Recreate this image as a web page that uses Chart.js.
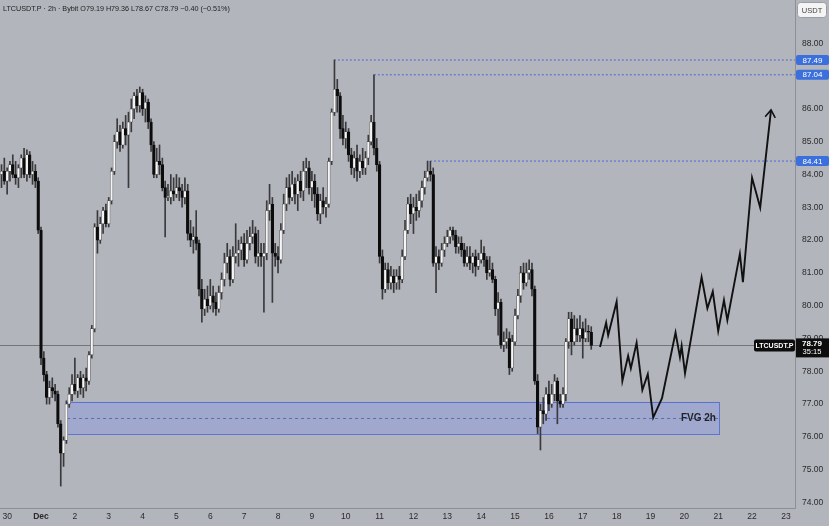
<!DOCTYPE html>
<html>
<head>
<meta charset="utf-8">
<title>LTCUSDT.P 2h</title>
<script src="https://cdn.jsdelivr.net/npm/chart.js@4.4.1/dist/chart.umd.min.js"></script>
<style>
  html, body { margin: 0; padding: 0; background: #b2b5bc; }
</style>
</head>
<body>
<canvas id="myChart" width="829" height="526"></canvas>
<script>
//2h candles, index 14 is Dec 1 00:00
const opens = [
  84.0, 84.1, 83.8, 84.1, 84.3, 84.0, 83.9, 84.2, 84.5, 84.0, 84.6, 84.0,
  84.1, 83.8, 82.3, 78.4, 77.9, 77.2, 77.5, 77.4, 77.3, 76.4, 75.5, 75.9,
  77.0, 77.3, 77.6, 77.4, 77.8, 77.5, 77.8, 77.7, 78.5, 79.3, 82.4, 82.0,
  82.5, 82.9, 82.5, 83.2, 84.1, 85.0, 85.3, 84.9, 85.4, 85.2, 85.6, 86.0,
  86.4, 86.1, 86.5, 86.0, 86.2, 85.6, 84.9, 84.0, 84.4, 84.3, 83.6, 83.3,
  83.3, 83.5, 83.4, 83.6, 83.5, 83.3, 83.5, 82.2, 82.0, 82.1, 81.9, 80.5,
  79.9, 80.2, 80.0, 80.3, 80.1, 79.9, 80.4, 80.8, 81.3, 81.5, 80.8, 81.5,
  81.6, 81.7, 81.9, 81.4, 81.9, 82.1, 82.2, 81.5, 81.6, 81.5, 81.6, 82.9,
  83.1, 81.6, 81.5, 81.4, 82.3, 83.1, 83.6, 83.3, 83.7, 83.4, 83.8, 83.5,
  84.1, 84.2, 83.6, 83.8, 83.4, 82.8, 83.2, 83.0, 83.1, 84.4, 85.9, 86.6,
  86.4, 85.4, 85.1, 85.3, 84.6, 84.2, 84.5, 84.1, 84.4, 84.2, 84.5, 85.0,
  85.6, 84.8, 84.3, 81.5, 80.5, 81.1, 80.7, 80.9, 80.7, 80.9, 80.8, 81.5,
  82.3, 83.1, 82.8, 83.0, 82.9, 83.2, 83.6, 83.9, 84.1, 84.0, 81.3, 81.5,
  81.3, 81.7, 81.9, 82.1, 82.3, 82.15, 81.8, 81.9, 81.7, 81.3, 81.5, 81.3,
  81.5, 81.2, 81.4, 81.6, 81.4, 81.0, 81.1, 80.8, 79.9, 80.1, 78.8, 78.9,
  79.0, 78.1, 78.9, 79.7, 80.3, 81.0, 80.7, 81.0, 81.1, 80.5, 77.7, 76.3,
  76.8, 76.7, 77.3, 77.0, 77.3, 77.7, 77.1, 77.0, 77.3, 78.9, 79.6, 78.9,
  79.3, 79.1, 79.3, 79.0, 79.2, 79.19
];
const highs = [
  84.3, 84.5, 84.2, 84.4, 84.6, 84.4, 84.3, 84.6, 84.8, 84.75, 84.7, 84.4,
  84.3, 83.9, 82.4, 78.6, 78.0, 77.7, 77.8, 77.6, 77.4, 76.5, 76.0, 77.1,
  77.5, 77.9, 78.4, 77.9, 78.0, 77.9, 78.1, 78.6, 79.4, 82.5, 82.9, 82.7,
  83.0, 83.1, 83.3, 84.2, 85.2, 85.7, 85.5, 85.6, 85.8, 85.9, 86.3, 86.5,
  86.6, 86.67, 86.6, 86.4, 86.3, 85.7, 85.0, 84.8, 84.9, 84.5, 83.8, 83.7,
  84.0, 83.9, 84.0, 83.9, 83.7, 83.9, 83.7, 82.6, 82.4, 82.9, 82.0, 80.8,
  80.5, 80.6, 80.8, 80.6, 80.4, 80.6, 81.0, 81.6, 81.9, 81.7, 81.8, 82.5,
  82.0, 82.1, 82.2, 82.3, 82.4, 82.6, 82.4, 82.3, 81.9, 81.9, 83.2, 83.7,
  83.3, 81.9, 81.8, 82.5, 83.4, 83.9, 84.0, 84.1, 83.9, 84.0, 84.1, 84.4,
  84.5, 84.4, 84.1, 84.0, 83.6, 83.4, 83.6, 83.3, 84.5, 86.0, 87.49, 86.9,
  86.5, 85.8, 85.6, 85.4, 84.8, 84.7, 84.9, 84.6, 84.8, 84.7, 85.2, 85.8,
  87.04, 85.1, 84.4, 81.7, 81.3, 81.3, 81.2, 81.1, 81.1, 81.2, 81.7, 82.6,
  83.3, 83.4, 83.3, 83.4, 83.5, 83.8, 84.1, 84.41, 84.4, 84.2, 81.8, 81.7,
  81.9, 82.1, 82.3, 82.4, 82.4, 82.3, 82.1, 82.1, 81.9, 81.8, 81.8, 81.6,
  81.7, 81.6, 82.0, 81.8, 81.5, 81.5, 81.3, 80.9, 80.4, 80.2, 79.2, 79.3,
  79.2, 79.1, 79.9, 80.5, 81.2, 81.3, 81.3, 81.4, 81.3, 80.6, 77.9, 77.0,
  77.2, 77.5, 77.7, 77.6, 77.9, 77.8, 77.3, 77.5, 79.0, 79.8, 79.8, 79.7,
  79.6, 79.7, 79.5, 79.6, 79.4, 79.36
];
const lows = [
  83.6, 83.7, 83.4, 83.8, 83.9, 83.7, 83.6, 83.9, 83.9, 83.8, 83.9, 83.7,
  83.6, 82.2, 78.2, 77.7, 77.0, 77.0, 77.2, 77.1, 76.3, 74.5, 75.1, 75.8,
  76.9, 77.1, 77.3, 77.2, 77.3, 77.2, 77.4, 77.6, 78.4, 79.2, 81.6, 81.9,
  82.2, 82.4, 82.4, 83.1, 84.0, 84.8, 84.7, 84.8, 84.9, 83.6, 85.3, 85.7,
  85.9, 85.9, 85.8, 85.6, 85.4, 84.7, 83.9, 83.9, 84.0, 83.5, 82.1, 83.2,
  83.1, 83.2, 83.3, 83.2, 83.0, 83.1, 82.0, 81.8, 81.6, 81.7, 80.3, 79.5,
  79.7, 79.8, 79.9, 79.8, 79.7, 79.8, 80.2, 80.6, 81.0, 80.6, 80.7, 81.3,
  81.2, 81.4, 81.2, 81.3, 81.7, 81.9, 81.3, 81.2, 81.2, 79.8, 81.4, 82.6,
  80.1, 81.2, 81.0, 81.3, 82.2, 82.9, 83.1, 83.2, 83.1, 82.9, 83.3, 83.2,
  83.6, 83.4, 83.2, 83.0, 82.6, 82.5, 82.8, 82.7, 83.0, 84.3, 85.8, 85.9,
  85.1, 84.9, 84.8, 84.4, 84.0, 83.9, 83.8, 83.9, 84.0, 84.0, 84.3, 84.9,
  84.6, 84.1, 81.3, 80.2, 80.4, 80.5, 80.5, 80.4, 80.5, 80.5, 80.7, 81.4,
  82.2, 82.5, 82.2, 82.6, 82.7, 83.0, 83.4, 83.8, 83.8, 81.2, 80.4, 81.1,
  81.2, 81.5, 81.8, 81.9, 82.0, 81.6, 81.6, 81.5, 81.2, 81.2, 81.1, 81.0,
  80.9, 81.1, 81.3, 81.2, 80.8, 80.9, 80.7, 79.7, 79.1, 78.7, 78.6, 78.7,
  77.9, 78.0, 78.8, 79.6, 80.1, 80.5, 80.6, 80.8, 80.3, 77.6, 76.1, 75.6,
  76.4, 76.5, 76.8, 76.9, 77.1, 76.4, 76.9, 76.9, 77.1, 78.7, 78.5, 78.8,
  78.9, 78.9, 78.4, 78.9, 78.9, 78.67
];
const closes = [
  84.1, 83.8, 84.1, 84.3, 84.0, 83.9, 84.2, 84.5, 84.0, 84.6, 84.0, 84.1,
  83.8, 82.3, 78.4, 77.9, 77.2, 77.5, 77.4, 77.3, 76.4, 75.5, 75.9, 77.0,
  77.3, 77.6, 77.4, 77.8, 77.5, 77.8, 77.7, 78.5, 79.3, 82.4, 82.0, 82.5,
  82.9, 82.5, 83.2, 84.1, 85.0, 85.3, 84.9, 85.4, 85.2, 85.6, 86.0, 86.4,
  86.1, 86.5, 86.0, 86.2, 85.6, 84.9, 84.0, 84.4, 84.3, 83.6, 83.3, 83.3,
  83.5, 83.4, 83.6, 83.5, 83.3, 83.5, 82.2, 82.0, 82.1, 81.9, 80.5, 79.9,
  80.2, 80.0, 80.3, 80.1, 79.9, 80.4, 80.8, 81.3, 81.5, 80.8, 81.5, 81.6,
  81.7, 81.9, 81.4, 81.9, 82.1, 82.2, 81.5, 81.6, 81.5, 81.6, 82.9, 83.1,
  81.6, 81.5, 81.4, 82.3, 83.1, 83.6, 83.3, 83.7, 83.4, 83.8, 83.5, 84.1,
  84.2, 83.6, 83.8, 83.4, 82.8, 83.2, 83.0, 83.1, 84.4, 85.9, 86.6, 86.4,
  85.4, 85.1, 85.3, 84.6, 84.2, 84.5, 84.1, 84.4, 84.2, 84.5, 85.0, 85.6,
  84.8, 84.3, 81.5, 80.5, 81.1, 80.7, 80.9, 80.7, 80.9, 80.8, 81.5, 82.3,
  83.1, 82.8, 83.0, 82.9, 83.2, 83.6, 83.9, 84.1, 84.0, 81.3, 81.5, 81.3,
  81.7, 81.9, 82.1, 82.3, 82.15, 81.8, 81.9, 81.7, 81.3, 81.5, 81.3, 81.5,
  81.2, 81.4, 81.6, 81.4, 81.0, 81.1, 80.8, 79.9, 80.1, 78.8, 78.9, 79.0,
  78.1, 78.9, 79.7, 80.3, 81.0, 80.7, 81.0, 81.1, 80.5, 77.7, 76.3, 76.8,
  76.7, 77.3, 77.0, 77.3, 77.7, 77.1, 77.0, 77.3, 78.9, 79.6, 78.9, 79.3,
  79.1, 79.3, 79.0, 79.2, 79.19, 78.79
];

//hand drawn projection after the last candle (day of month, price)
const projDays = [17.51, 17.69, 17.75, 18.00, 18.17, 18.34, 18.42, 18.59, 18.76, 18.92, 19.08, 19.34, 19.74, 19.87,
  19.92, 20.02, 20.51, 20.68, 20.84, 21.00, 21.17, 21.27, 21.64, 21.73, 22.00, 22.24, 22.56];
const projPrices = [78.74, 79.48, 79.10, 80.12, 77.71, 78.47, 78.09, 78.87, 77.43, 77.91, 76.59, 77.18, 79.18, 78.43,
  78.77, 77.94, 80.87, 79.92, 80.43, 79.23, 80.17, 79.56, 81.58, 80.72, 83.90, 82.99, 85.97];

//highs marked with dotted lines
const levelPrices = [87.49, 87.04, 84.41];
const levelStart = [9.65, 10.83, 12.49];

//fair value gap zone
const fvgLow = 76.09;
const fvgHigh = 77.07;
const fvgMid = 76.58;
const fvgFrom = 1.77;
const fvgTo = 21.02;

const priceTicks = [74, 75, 76, 77, 78, 79, 80, 81, 82, 83, 84, 85, 86, 87, 88];
const dayTicks = [0, 1, 2, 3, 4, 5, 6, 7, 8, 9, 10, 11, 12, 13, 14, 15, 16, 17, 18, 19, 20, 21, 22, 23];
const dayLabels = ['30', 'Dec', '2', '3', '4', '5', '6', '7', '8', '9', '10', '11', '12', '13', '14', '15', '16',
  '17', '18', '19', '20', '21', '22', '23'];
const countdown = '35:15';

const FONT = '"Liberation Sans", Arial, sans-serif';
const BG = '#b2b5bc';

//time of each candle in days of December
const candleDays = opens.map((o, i) => 1 + (i - 14) / 12);
const last = closes.length - 1;
const lastPrice = closes[last];

const wicks = candleDays.map((d, i) => ({ x: d, y: [lows[i], highs[i]] }));
const bodies = candleDays.map((d, i) => ({ x: d, y: [opens[i], closes[i]] }));
const projection = projDays.map((d, i) => ({ x: d, y: projPrices[i] }));

function isUp(c) {
    return closes[c.dataIndex] >= opens[c.dataIndex];
}

const levelSets = levelPrices.map((p, i) => ({
    type: 'line',
    data: [{ x: levelStart[i], y: p }, { x: 23.3, y: p }],
    borderColor: '#4a67d6',
    borderWidth: 1,
    borderDash: [2, 2],
    pointRadius: 0,
    order: 3
}));

//no label padding, so the plot fills the canvas up to the axes
function noPadding(s) {
    s.paddingTop = 0;
    s.paddingBottom = 0;
    s.paddingLeft = 0;
    s.paddingRight = 0;
}

function tag(c, text, x, y, w, h, fill, color, font) {
    c.fillStyle = fill;
    c.beginPath();
    if (c.roundRect) c.roundRect(x, y, w, h, 2); else c.rect(x, y, w, h);
    c.fill();
    c.fillStyle = color;
    c.font = font;
    c.textAlign = 'center';
    c.textBaseline = 'middle';
    c.fillText(text, x + w / 2, y + h / 2 + 0.5);
}

const overlays = {
    id: 'overlays',
    beforeDraw(chart) {
        const c = chart.ctx;
        c.save();
        c.fillStyle = BG;
        c.fillRect(0, 0, chart.width, chart.height);
        c.restore();
    },
    beforeDatasetsDraw(chart) {
        const c = chart.ctx, x = chart.scales.x, y = chart.scales.y, area = chart.chartArea;
        const left = x.getPixelForValue(fvgFrom), right = x.getPixelForValue(fvgTo);
        const top = y.getPixelForValue(fvgHigh), bot = y.getPixelForValue(fvgLow);
        c.save();
        //zone
        c.fillStyle = 'rgba(120,140,245,0.30)';
        c.fillRect(left, top, right - left, bot - top);
        c.strokeStyle = 'rgba(78,104,214,0.85)';
        c.lineWidth = 1;
        c.strokeRect(Math.round(left) + 0.5, Math.round(top) + 0.5, Math.round(right - left), Math.round(bot - top));
        c.setLineDash([3, 3]);
        c.strokeStyle = 'rgba(70,88,170,0.75)';
        const mid = Math.round(y.getPixelForValue(fvgMid)) + 0.5;
        c.beginPath(); c.moveTo(left, mid); c.lineTo(right, mid); c.stroke();
        //last price line
        c.setLineDash([]);
        const py = Math.round(y.getPixelForValue(lastPrice)) + 0.5;
        c.strokeStyle = 'rgba(88,90,96,0.7)';
        c.beginPath(); c.moveTo(area.left, py); c.lineTo(area.right, py); c.stroke();
        c.restore();
    },
    afterDraw(chart) {
        const c = chart.ctx, x = chart.scales.x, y = chart.scales.y, area = chart.chartArea;
        c.save();
        //arrow head on the projection
        const n = projDays.length;
        const tx = x.getPixelForValue(projDays[n - 1]), ty = y.getPixelForValue(projPrices[n - 1]);
        const fx = x.getPixelForValue(projDays[n - 2]), fy = y.getPixelForValue(projPrices[n - 2]);
        const ang = Math.atan2(ty - fy, tx - fx);
        c.strokeStyle = '#111';
        c.lineWidth = 1.6;
        c.beginPath();
        c.moveTo(tx + 9 * Math.cos(ang + Math.PI - 0.6), ty + 9 * Math.sin(ang + Math.PI - 0.6));
        c.lineTo(tx, ty);
        c.lineTo(tx + 9 * Math.cos(ang + Math.PI + 0.6), ty + 9 * Math.sin(ang + Math.PI + 0.6));
        c.stroke();

        //FVG label
        c.fillStyle = '#1f2126';
        c.font = 'bold 10px ' + FONT;
        c.textAlign = 'right';
        c.textBaseline = 'middle';
        c.fillText('FVG 2h', x.getPixelForValue(fvgTo) - 3, y.getPixelForValue(fvgMid) + 0.5);

        //price tags on the axis
        levelPrices.forEach(p => {
            const ly = y.getPixelForValue(p);
            tag(c, p.toFixed(2), area.right + 1, ly - 5, 33, 10, '#3b6fdc', '#fff', '8px ' + FONT);
        });
        const py = y.getPixelForValue(lastPrice);
        tag(c, 'LTCUSDT.P', area.right - 41, py - 6, 41, 12, '#0d0d0d', '#fff', 'bold 7px ' + FONT);
        c.fillStyle = '#0d0d0d';
        c.fillRect(area.right + 1, py - 7, 33, 19);
        c.fillStyle = '#fff';
        c.textAlign = 'center';
        c.font = 'bold 8px ' + FONT;
        c.fillText(lastPrice.toFixed(2), area.right + 17, py - 2);
        c.font = '7.5px ' + FONT;
        c.fillText(countdown, area.right + 17, py + 7);

        //currency box
        c.strokeStyle = '#9a9da4';
        c.lineWidth = 1;
        c.fillStyle = '#f4f4f5';
        c.beginPath();
        if (c.roundRect) c.roundRect(797.5, 2.5, 29, 15, 3); else c.rect(797.5, 2.5, 29, 15);
        c.fill(); c.stroke();
        c.fillStyle = '#444';
        c.font = '7.5px ' + FONT;
        c.fillText('USDT', 812, 10.5);

        //header
        const chg = closes[last] - closes[last - 1];
        const pct = chg / closes[last - 1] * 100;
        const sign = v => (v < 0 ? '\u2212' : '+') + Math.abs(v).toFixed(2);
        c.fillStyle = '#222';
        c.textAlign = 'left';
        c.font = '7.2px ' + FONT;
        c.fillText('LTCUSDT.P \u00b7 2h \u00b7 Bybit O' + opens[last].toFixed(2) + ' H' + highs[last].toFixed(2) +
            ' L' + lows[last].toFixed(2) + ' C' + closes[last].toFixed(2) + ' ' + sign(chg) + ' (' + sign(pct) + '%)', 3, 9.5);
        c.restore();
    }
};

var ctx = document.getElementById('myChart').getContext('2d');
var myChart = new Chart(ctx, {
    type: 'bar',
    data: {
        datasets: [
            {
                type: 'line',
                data: projection,
                borderColor: '#111',
                borderWidth: 1.9,
                borderJoinStyle: 'miter',
                pointRadius: 0,
                tension: 0,
                order: 0
            },
            ...levelSets,
            {
                data: bodies,
                backgroundColor: c => isUp(c) ? '#f5f5f5' : '#0c0c0c',
                borderColor: c => isUp(c) ? '#4a4a4a' : '#0c0c0c',
                borderWidth: 0.6,
                borderSkipped: false,
                barThickness: 2.7,
                minBarLength: 1,
                grouped: false,
                order: 1
            },
            {
                data: wicks,
                backgroundColor: '#3a3a3c',
                barThickness: 1,
                grouped: false,
                order: 2
            }
        ]
    },
    options: {
        responsive: false,
        animation: false,
        layout: { padding: 0 },
        plugins: {
            legend: { display: false },
            tooltip: { enabled: false }
        },
        scales: {
            x: {
                type: 'linear',
                min: -0.211,
                max: 23.268,
                offset: false,
                grid: { display: false, drawTicks: false },
                border: { display: true, color: '#8c8f96' },
                afterBuildTicks: s => { s.ticks = dayTicks.map(v => ({ value: v })); },
                afterFit: s => { s.height = 18; noPadding(s); },
                ticks: {
                    callback: v => dayLabels[dayTicks.indexOf(v)],
                    color: '#2a2a2a',
                    font: c => ({ family: FONT, size: 8.5, weight: (c.tick && c.tick.value === 1) ? 'bold' : 'normal' }),
                    padding: 4,
                    autoSkip: false,
                    maxRotation: 0,
                    minRotation: 0
                }
            },
            y: {
                type: 'linear',
                position: 'right',
                min: 73.832,
                max: 89.32,
                grid: { display: false, drawTicks: false },
                border: { display: true, color: '#8c8f96' },
                afterBuildTicks: s => { s.ticks = priceTicks.map(v => ({ value: v })); },
                afterFit: s => { s.width = 34; noPadding(s); },
                ticks: {
                    callback: v => v.toFixed(2),
                    color: '#2a2a2a',
                    font: { family: FONT, size: 8.5 },
                    padding: 7
                }
            }
        }
    },
    plugins: [overlays]
});
</script>
</body>
</html>
